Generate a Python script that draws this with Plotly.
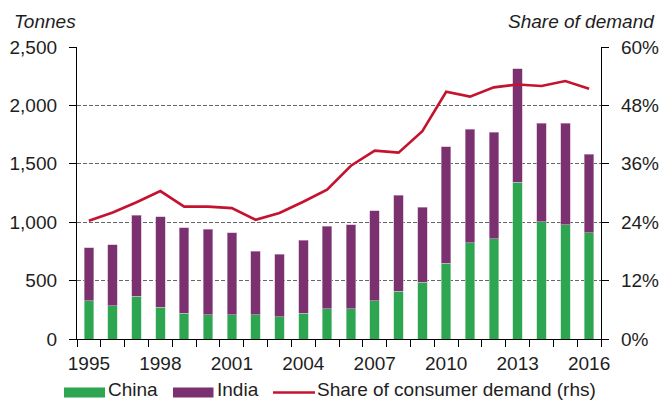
import plotly.graph_objects as go

years = list(range(1995, 2017))
china = [327, 286, 367, 272, 221, 206, 206, 206, 192, 221, 258, 258, 327, 407, 484, 647, 823, 860, 1341, 1006, 980, 911]
total = [780, 806, 1060, 1046, 952, 940, 911, 751, 725, 845, 966, 980, 1100, 1232, 1129, 1648, 1794, 1769, 2313, 1849, 1849, 1582]
india = [t - c for t, c in zip(total, china)]
share = [24.3, 26.0, 28.1, 30.4, 27.2, 27.2, 26.9, 24.5, 25.9, 28.2, 30.7, 35.6, 38.7, 38.3, 42.7, 50.8, 49.8, 51.7, 52.3, 52.0, 53.0, 51.4]

left_ticks = [0, 500, 1000, 1500, 2000, 2500]
left_labels = ["0", "500", "1,000", "1,500", "2,000", "2,500"]
right_ticks = [0, 12, 24, 36, 48, 60]
right_labels = ["0%", "12%", "24%", "36%", "48%", "60%"]
x_labels = [1995, 1998, 2001, 2004, 2007, 2010, 2013, 2016]

GREEN = "#2ea550"
PURPLE = "#7b306f"
RED = "#c4122f"
TXT = "#1e1e1e"
FONT = "Liberation Sans"

W, H = 662, 401
L, R, T, B = 77, 61, 47, 62
PW, PH = W - L - R, H - T - B


def px(x):
    return (x - L) / PW


def py(y):
    return (H - B - y) / PH


fig = go.Figure()
fig.add_trace(go.Bar(x=years, y=china, name="China", marker=dict(color=GREEN, line=dict(width=0.6, color="#b9dfc3")), width=0.4))
fig.add_trace(go.Bar(x=years, y=india, name="India", marker=dict(color=PURPLE, line=dict(width=0.6, color="#cdb0c8")), width=0.4))
fig.add_trace(go.Scatter(x=years, y=share, name="Share of consumer demand (rhs)", mode="lines",
                         line=dict(color=RED, width=2.6), yaxis="y2"))

fig.update_layout(
    width=W, height=H,
    margin=dict(l=L, r=R, t=T, b=B, autoexpand=False),
    barmode="stack",
    showlegend=False,
    plot_bgcolor="white", paper_bgcolor="white",
    font=dict(family=FONT, size=19, color=TXT),
    xaxis=dict(
        range=[1994.5, 2016.5], tickmode="array", tickvals=x_labels, ticks="",
        showgrid=False, zeroline=False, showline=True, linecolor="black", linewidth=1.3,
        ticklabelstandoff=7,
        minor=dict(tickmode="linear", tick0=1994.5, dtick=1, ticks="outside", ticklen=7,
                   tickwidth=1.3, tickcolor="black", showgrid=False),
    ),
    yaxis=dict(
        range=[0, 2500], tickmode="array", tickvals=left_ticks, ticktext=left_labels,
        ticks="outside", ticklen=7, tickwidth=1.3, tickcolor="black",
        showline=True, linecolor="black", linewidth=1.3,
        showgrid=True, gridcolor="#666666", griddash="4px,2px", gridwidth=1,
        zeroline=False, ticklabelstandoff=8,
    ),
    yaxis2=dict(
        range=[0, 60], overlaying="y", side="right", tickmode="array",
        tickvals=right_ticks, ticktext=right_labels,
        ticks="outside", ticklen=7, tickwidth=1.3, tickcolor="black",
        showline=True, linecolor="black", linewidth=1.3,
        showgrid=False, zeroline=False, ticklabelstandoff=8,
    ),
)

# axis titles
fig.add_annotation(x=px(12), y=py(22), xref="paper", yref="paper", text="<i>Tonnes</i>",
                   showarrow=False, xanchor="left", yanchor="middle", font=dict(size=19))
fig.add_annotation(x=px(657), y=py(22), xref="paper", yref="paper", text="<i>Share of demand</i>",
                   showarrow=False, xanchor="right", yanchor="middle", font=dict(size=19))

# legend
leg_bottom = py(401)
fig.add_shape(type="rect", xref="paper", yref="paper", x0=px(64), x1=px(105), y0=py(387.5), y1=py(397.5),
              fillcolor=GREEN, line=dict(width=0))
fig.add_annotation(x=px(107), y=leg_bottom, xref="paper", yref="paper", text="China",
                   showarrow=False, xanchor="left", yanchor="bottom", borderpad=0)
fig.add_shape(type="rect", xref="paper", yref="paper", x0=px(173), x1=px(213.5), y0=py(387.5), y1=py(397.5),
              fillcolor=PURPLE, line=dict(width=0))
fig.add_annotation(x=px(216), y=leg_bottom, xref="paper", yref="paper", text="India",
                   showarrow=False, xanchor="left", yanchor="bottom", borderpad=0)
fig.add_shape(type="line", xref="paper", yref="paper", x0=px(273), x1=px(315), y0=py(392.5), y1=py(392.5),
              line=dict(color=RED, width=2.4))
fig.add_annotation(x=px(316), y=leg_bottom, xref="paper", yref="paper", text="Share of consumer demand (rhs)",
                   showarrow=False, xanchor="left", yanchor="bottom", borderpad=0)

fig.write_html("out.html", config={"displayModeBar": False},
               post_script="document.body.style.margin='0';document.body.style.overflow='hidden';")
